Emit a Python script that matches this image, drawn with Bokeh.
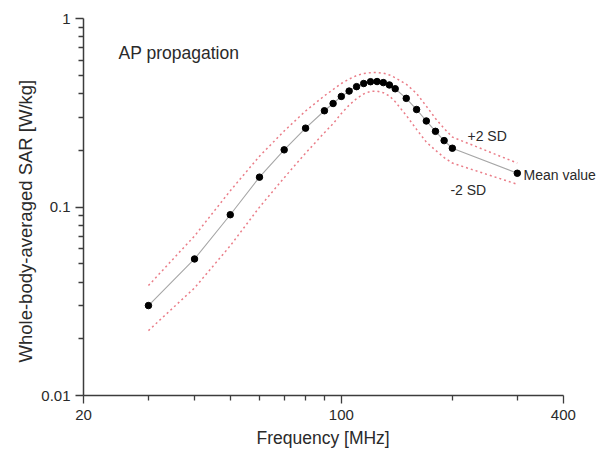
from bokeh.plotting import figure
from bokeh.models import FixedTicker, Label, CustomJSTickFormatter, Range1d, Title
from bokeh.embed import file_html
from bokeh.resources import INLINE

# ---- data ----
freq_mhz = [30, 40, 50, 60, 70, 80, 90, 95, 100, 105, 110, 115, 120, 125,
            130, 135, 140, 150, 160, 170, 180, 190, 200, 300]
sar_mean = [0.030, 0.053, 0.091, 0.144, 0.201, 0.262, 0.324, 0.354, 0.386,
            0.412, 0.435, 0.452, 0.462, 0.463, 0.457, 0.444, 0.424, 0.377,
            0.329, 0.286, 0.252, 0.225, 0.205, 0.151]
sar_plus2sd = [0.0383, 0.0702, 0.122, 0.186, 0.253, 0.323, 0.389, 0.420, 0.452,
               0.477, 0.498, 0.511, 0.516, 0.517, 0.513, 0.502, 0.485, 0.448,
               0.400, 0.343, 0.295, 0.261, 0.235, 0.171]
sar_minus2sd = [0.0221, 0.0372, 0.0623, 0.0998, 0.143, 0.193, 0.248, 0.277, 0.313,
                0.347, 0.376, 0.398, 0.411, 0.412, 0.404, 0.388, 0.362, 0.306,
                0.258, 0.221, 0.200, 0.183, 0.171, 0.132]

x_axis_limits = (20, 400)
y_axis_limits = (0.01, 1)
x_major_ticks = [20, 100, 400]
x_minor_ticks = [30, 40, 50, 60, 70, 80, 90, 200, 300]
y_major_ticks = [0.01, 0.1, 1]
y_minor_ticks = [0.02, 0.03, 0.04, 0.05, 0.06, 0.07, 0.08, 0.09,
                 0.2, 0.3, 0.4, 0.5, 0.6, 0.7, 0.8, 0.9]

FONT = "Liberation Sans"
TXT = "#2a2a2a"
AX = "#3c3c3c"

# frame runs to the right edge so the "Mean value" text is not clipped;
# the visible axis line is bounded to 20..400
p = figure(width=600, height=452, x_axis_type="log", y_axis_type="log",
           x_range=Range1d(20, 504.3), y_range=Range1d(*y_axis_limits),
           output_backend="svg", toolbar_location=None,
           min_border_left=83, min_border_right=0,
           min_border_top=18, min_border_bottom=57)
p.outline_line_color = None
p.xgrid.visible = False
p.ygrid.visible = False
p.background_fill_color = "white"
p.border_fill_color = "white"

fmt = CustomJSTickFormatter(code="return tick.toString();")
for ax, maj, mnr in ((p.xaxis[0], x_major_ticks, x_minor_ticks),
                     (p.yaxis[0], y_major_ticks, y_minor_ticks)):
    ax.ticker = FixedTicker(ticks=maj, minor_ticks=mnr)
    ax.formatter = fmt
    ax.axis_line_color = AX
    ax.axis_line_width = 1.5
    ax.major_tick_line_color = AX
    ax.minor_tick_line_color = AX
    ax.major_tick_line_width = 1.3
    ax.minor_tick_line_width = 1.3
    ax.major_tick_out = 8
    ax.major_tick_in = 0
    ax.minor_tick_out = 5
    ax.minor_tick_in = 0
    ax.major_label_text_font = FONT
    ax.major_label_text_font_size = "15px"
    ax.major_label_text_color = TXT

p.xaxis.bounds = x_axis_limits
p.xaxis.major_label_standoff = 6
p.yaxis.major_label_standoff = 5

# axis titles as side titles so they can be placed like the reference
p.add_layout(Title(text="Frequency [MHz]", align="left", offset=173,
                   standoff=6, text_font=FONT, text_font_size="17.5px",
                   text_font_style="normal", text_color=TXT), "below")
p.add_layout(Title(text="Whole-body-averaged SAR [W/kg]", align="left", offset=33,
                   standoff=5, text_font=FONT, text_font_size="18.5px",
                   text_font_style="normal", text_color=TXT), "left")

RED = "#ea7d88"
p.line(freq_mhz, sar_plus2sd, line_color=RED, line_dash="2 3", line_width=1.5)
p.line(freq_mhz, sar_minus2sd, line_color=RED, line_dash="2 3", line_width=1.5)
p.line(freq_mhz, sar_mean, line_color="#a6a6a6", line_width=1.1)
p.scatter(freq_mhz, sar_mean, size=6.5, color="black")

p.add_layout(Label(x=24.9, y=0.66, text="AP propagation", text_font=FONT,
                   text_font_size="17.5px", text_color=TXT,
                   text_baseline="alphabetic", text_align="left"))
p.add_layout(Label(x=219.8, y=0.2366, text="+2 SD", text_font=FONT,
                   text_font_size="14px", text_color=TXT,
                   text_baseline="alphabetic", text_align="left"))
p.add_layout(Label(x=197.6, y=0.1238, text="-2 SD", text_font=FONT,
                   text_font_size="14px", text_color=TXT,
                   text_baseline="alphabetic", text_align="left"))
p.add_layout(Label(x=311.8, y=0.1487, text="Mean value", text_font=FONT,
                   text_font_size="14px", text_color=TXT,
                   text_baseline="middle", text_align="left"))

open("out.html", "w").write(file_html(p, INLINE))
